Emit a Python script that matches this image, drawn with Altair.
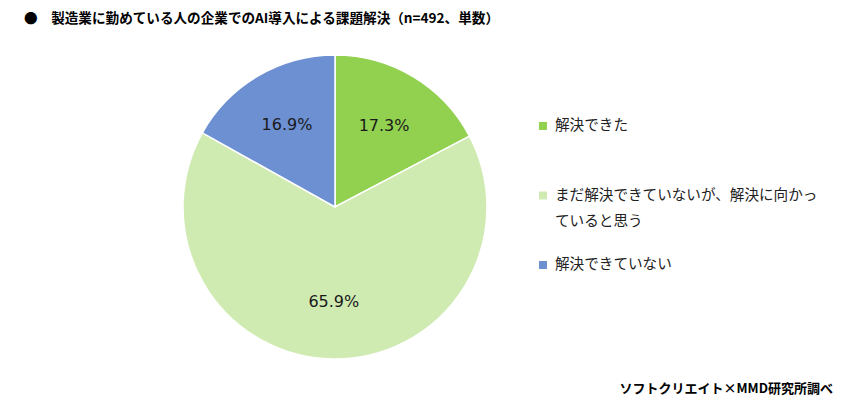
import altair as alt
import pandas as pd

categories = ["解決できた", "まだ解決できていないが、解決に向かっていると思う", "解決できていない"]
legend_labels = ["解決できた", "まだ解決できていないが、解決に向かっ|ていると思う", "解決できていない"]
values = [17.3, 65.9, 16.9]
colors = ["#92D050", "#D0EBB2", "#6D90D2"]
order = [1, 2, 3]
title_text = "●　製造業に勤めている人の企業でのAI導入による課題解決（n=492、単数）"
source_text = "ソフトクリエイト×MMD研究所調べ"

df = pd.DataFrame({"cat": categories, "val": values, "ord": order, "lab": legend_labels})
df["label"] = df["val"].map(lambda v: f"{v:.1f}%")

CX, CY = 327, 199
JP = "Noto Sans CJK JP"

color = alt.Color("cat:N", scale=alt.Scale(domain=categories, range=colors), legend=None)

base = alt.Chart(df).encode(
    theta=alt.Theta("val:Q", stack=True),
    order=alt.Order("ord:Q"),
)

arcs = base.mark_arc(radius=152, stroke="white", strokeWidth=1.5).encode(
    x=alt.value(CX), y=alt.value(CY), color=color,
)

texts = base.mark_text(radius=95, font="DejaVu Sans", fontSize=16, color="#1a1a1a").encode(
    x=alt.value(CX), y=alt.value(CY),
    text="label:N",
)

leg_y = alt.Y("ord:Q", scale=alt.Scale(domain=[1, 3], range=[118, 257]), axis=None)

leg_sym = alt.Chart(df).mark_square(size=64, opacity=1).encode(
    x=alt.value(535), y=leg_y, color=color,
)

leg_txt = alt.Chart(df).transform_calculate(
    lines="split(datum.lab, '|')"
).mark_text(
    font=JP, fontSize=14.6, color="#222222", align="left", baseline="top", lineHeight=26, dy=-8
).encode(x=alt.value(547), y=leg_y, text="lines:N")

title = alt.Chart(pd.DataFrame({"t": [title_text]})).mark_text(
    font=JP, fontSize=13.6, fontWeight="bold", align="left", baseline="middle", color="#000000"
).encode(x=alt.value(16), y=alt.value(11), text="t:N")

source = alt.Chart(pd.DataFrame({"t": [source_text]})).mark_text(
    font=JP, fontSize=13, fontWeight="bold", align="right", baseline="middle", color="#000000"
).encode(x=alt.value(825), y=alt.value(381), text="t:N")

chart = alt.layer(arcs, texts, leg_sym, leg_txt, title, source).properties(
    width=825, height=390, padding=0, autosize=alt.AutoSizeParams(type="none")
).configure_view(stroke=None)

chart.save("out.html", embed_options={"renderer": "svg", "actions": False})
